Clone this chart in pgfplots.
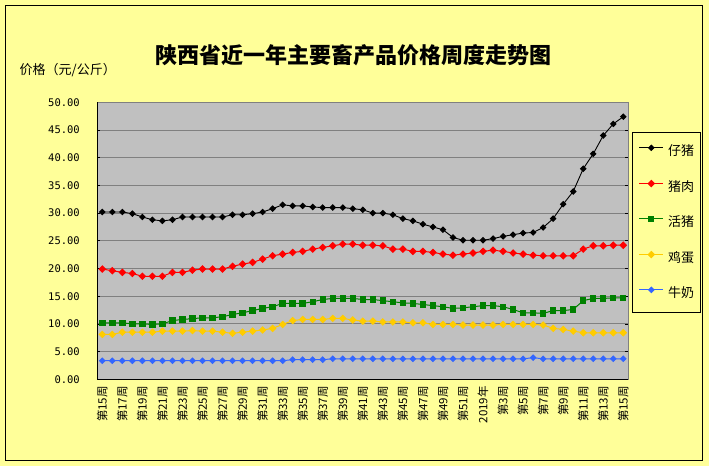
\documentclass[border=0pt]{standalone}
\usepackage{pgfplots}
\pgfplotsset{compat=1.18}
\usepackage{pgfplotstable}
\usepackage{fontspec}
\setmainfont{Noto Sans CJK SC}
\newfontfamily\monofont{DejaVu Sans Mono}
\pgfdeclarelayer{bglayer}
\pgfsetlayers{bglayer,main}
\definecolor{bgyellow}{HTML}{FFFF99}
\definecolor{plotgray}{HTML}{C0C0C0}
\definecolor{gridgray}{HTML}{808080}
\definecolor{cgreen}{HTML}{008000}
\definecolor{cyellow}{HTML}{FFCC00}
\definecolor{cblue}{HTML}{3366FF}
\pgfplotstableread{
i zizhu zhurou huozhu jidan niunai
0 30.2 19.9 10.2 8.1 3.35
1 30.2 19.6 10.2 8.1 3.35
2 30.2 19.3 10.2 8.5 3.35
3 29.9 19.1 10.0 8.5 3.35
4 29.3 18.6 10.0 8.5 3.35
5 28.8 18.6 9.9 8.5 3.35
6 28.6 18.6 10.0 8.7 3.35
7 28.8 19.3 10.6 8.7 3.35
8 29.3 19.3 10.8 8.7 3.35
9 29.3 19.7 10.95 8.8 3.35
10 29.3 19.9 11.1 8.7 3.35
11 29.3 19.9 11.1 8.7 3.35
12 29.3 19.9 11.3 8.5 3.35
13 29.7 20.4 11.7 8.3 3.35
14 29.7 20.8 12.0 8.5 3.35
15 29.9 21.1 12.4 8.7 3.35
16 30.2 21.7 12.8 8.9 3.35
17 30.8 22.3 13.1 9.2 3.35
18 31.5 22.6 13.7 9.9 3.35
19 31.3 22.9 13.7 10.6 3.55
20 31.3 23.1 13.7 10.8 3.55
21 31.1 23.5 14.0 10.8 3.55
22 31.0 23.8 14.4 10.8 3.55
23 31.0 24.1 14.6 11.0 3.7
24 31.0 24.4 14.6 11.0 3.7
25 30.8 24.4 14.6 10.7 3.7
26 30.6 24.2 14.4 10.5 3.7
27 30.0 24.2 14.4 10.5 3.7
28 30.0 24.1 14.2 10.35 3.7
29 29.7 23.5 14.0 10.35 3.7
30 29.0 23.5 13.8 10.35 3.7
31 28.6 23.1 13.7 10.2 3.7
32 28.0 23.1 13.5 10.2 3.7
33 27.5 22.9 13.3 9.9 3.7
34 27.0 22.6 13.1 9.9 3.7
35 25.6 22.4 12.8 9.9 3.7
36 25.1 22.6 12.9 9.8 3.7
37 25.1 22.8 13.1 9.8 3.7
38 25.1 23.1 13.3 9.8 3.7
39 25.4 23.3 13.3 9.8 3.7
40 25.8 23.1 13.1 9.9 3.7
41 26.1 22.8 12.6 9.9 3.7
42 26.4 22.6 12.0 9.9 3.7
43 26.5 22.4 12.0 9.9 3.9
44 27.4 22.3 11.9 9.8 3.7
45 29.0 22.3 12.4 9.2 3.7
46 31.6 22.3 12.4 9.0 3.7
47 33.9 22.3 12.6 8.7 3.7
48 38.0 23.5 14.2 8.4 3.7
49 40.7 24.1 14.6 8.4 3.7
50 44.0 24.1 14.6 8.4 3.7
51 46.1 24.2 14.7 8.4 3.7
52 47.4 24.2 14.7 8.4 3.7
}\datatable
\begin{document}
\begin{tikzpicture}[x=1pt,y=1pt]
\begin{axis}[
  scale only axis, width=531pt, height=277pt,
  xmin=-0.5, xmax=52.5, ymin=0, ymax=50,
  axis background/.style={fill=plotgray},
  axis line style={draw=gridgray, line width=1pt},
  ytick={0,5,...,50},
  ymajorgrids, major grid style={draw=gridgray, line width=1pt},
  y tick style={black, line width=0.8pt},
  major tick length=3pt,
  tick align=inside,
  yticklabel style={font=\monofont\fontsize{10.5}{12}\selectfont, anchor=east, inner sep=0pt, xshift=-17.3pt},
  /pgf/number format/.cd, fixed, fixed zerofill, precision=2, assume math mode=true, /pgfplots/.cd,
  xtick={0,2,...,52},
  xticklabels={第15周,第17周,第19周,第21周,第23周,第25周,第27周,第29周,第31周,第33周,第35周,第37周,第39周,第41周,第43周,第45周,第47周,第49周,第51周,2019年,第3周,第5周,第7周,第9周,第11周,第13周,第15周},
  x tick style={draw=none},
  minor xtick={-0.5,0.5,...,52.5},
  minor x tick style={black, line width=0.8pt, yshift=-3pt},
  minor tick length=3pt,
  xticklabel style={font=\fontsize{11.5}{13}\selectfont, rotate=90, anchor=east, inner xsep=6.7pt, inner ysep=0pt},
  clip=false,
  legend cell align=left,
  legend image code/.code={\draw[mark repeat=2,mark phase=2] plot coordinates {(0pt,4.5pt) (12pt,4.5pt) (24pt,4.5pt)};},
  legend style={at={(1.0075,0.894)}, anchor=north west, draw=black, line width=1pt, fill=none,
    inner xsep=6pt, inner ysep=13pt, row sep=22.6pt, column sep=4.3pt,
    font=\fontsize{13}{15}\selectfont,
    nodes={inner sep=0pt, text height=9pt, text depth=2pt}},
]
\addplot[black, line width=0.9pt, mark=square*, mark size=1.9pt, mark options={rotate=45, solid}] table[x=i,y=zizhu] {\datatable};
\addlegendentry{仔猪}
\addplot[red, line width=1pt, mark=square*, mark size=2.2pt, mark options={rotate=45, solid}] table[x=i,y=zhurou] {\datatable};
\addlegendentry{猪肉}
\addplot[cgreen, line width=1pt, mark=square*, mark size=2.7pt, mark options={solid}] table[x=i,y=huozhu] {\datatable};
\addlegendentry{活猪}
\addplot[cyellow, line width=1pt, mark=square*, mark size=2.2pt, mark options={rotate=45, solid}] table[x=i,y=jidan] {\datatable};
\addlegendentry{鸡蛋}
\addplot[cblue, line width=1pt, mark=square*, mark size=1.9pt, mark options={rotate=45, solid}] table[x=i,y=niunai] {\datatable};
\addlegendentry{牛奶}
\draw[black, line width=1pt] (rel axis cs:0,1) -- (rel axis cs:0,0) -- (rel axis cs:1,0);
\coordinate (A) at (rel axis cs:0,0);
\end{axis}
\begin{scope}[shift={(A)}]
\begin{pgfonlayer}{bglayer}
\fill[bgyellow] (-97.3,-86.7) rectangle (611.7,379.3);
\draw[black,line width=1pt] (-92,-81.4) rectangle (605.4,374);
\end{pgfonlayer}
\node[font=\fontsize{22}{26}\selectfont\bfseries] at (256.4,323.6) {陕西省近一年主要畜产品价格周度走势图};
\node[anchor=west,inner sep=0pt,font=\fontsize{13}{16}\selectfont] at (-77.8,309.3) {价格（元/公斤）};
\end{scope}
\end{tikzpicture}
\end{document}
